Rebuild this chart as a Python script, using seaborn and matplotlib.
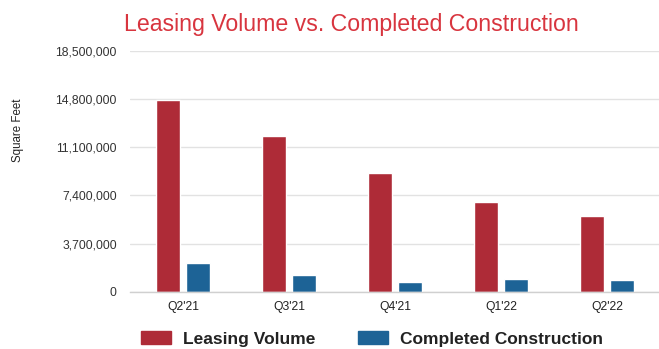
import matplotlib
matplotlib.use("Agg")
import matplotlib.pyplot as plt
import seaborn as sns
import pandas as pd
from matplotlib.patches import Patch
from matplotlib.ticker import FixedLocator, FuncFormatter

quarters = ["Q2'21", "Q3'21", "Q4'21", "Q1'22", "Q2'22"]
leasing_volume = [14750000, 11950000, 9090000, 6890000, 5810000]
completed_construction = [2200000, 1280000, 720000, 950000, 870000]
series_names = ["Leasing Volume", "Completed Construction"]
y_ticks = [0, 3700000, 7400000, 11100000, 14800000, 18500000]

colors = ["#ae2b37", "#1d6396"]

df = pd.DataFrame({
    "Quarter": quarters * 2,
    "Series": [series_names[0]] * len(quarters) + [series_names[1]] * len(quarters),
    "Value": leasing_volume + completed_construction,
})

sns.set_theme(style="white")
plt.rcParams['font.family'] = ['Liberation Sans', 'DejaVu Sans']

fig = plt.figure(figsize=(6.59, 3.49), dpi=100)
ax = fig.add_axes([130/659, 1-291.7/349, 530/659, (291.7-50.7)/349])

sns.barplot(data=df, x="Quarter", y="Value", hue="Series", order=quarters,
            hue_order=series_names, palette=colors, width=0.566, gap=0.2,
            ax=ax, legend=False, saturation=1, errorbar=None)

ax.set_ylim(0, 18500000)
ax.set_xlim(-0.5, len(quarters) - 0.5)
ax.yaxis.set_major_locator(FixedLocator(y_ticks))
ax.yaxis.set_major_formatter(FuncFormatter(lambda v, p: f"{int(v):,}"))
ax.grid(axis="y", color="#e2e2e2", linewidth=1)
ax.set_axisbelow(True)
for s in ["top", "right", "left"]:
    ax.spines[s].set_visible(False)
ax.spines["bottom"].set_color("#d0d0d0")
ax.spines["bottom"].set_linewidth(1)

ax.tick_params(axis="y", length=0, labelsize=8.7, labelcolor="#333333", pad=9.5)
ax.tick_params(axis="x", which="major", length=0, labelsize=8.7, labelcolor="#222222", pad=7)
ax.set_xticks([i - 0.5 for i in range(len(quarters) + 1)], minor=True)
ax.tick_params(axis="x", which="minor", length=4, color="#d0d0d0", width=1)

ax.set_xlabel("")
ax.set_ylabel("")
fig.text(17.5/659, 1-130/349, "Square Feet", rotation=90, ha="center", va="center",
         fontsize=8.3, color="#222222")

fig.text(351/659, 1-25/349, "Leasing Volume vs. Completed Construction",
         ha="center", va="center", fontsize=16.7, color="#d8353f")

handles = [Patch(facecolor=c, edgecolor=c) for c in colors]
leg = fig.legend(handles, series_names, loc="center", bbox_to_anchor=(372/659, 1-339/349),
                 ncol=2, frameon=False, handlelength=1.72, handleheight=0.75,
                 handletextpad=0.69, columnspacing=2.47,
                 prop={"weight": "bold", "size": 12.5})
for t in leg.get_texts():
    t.set_color("#222222")

fig.savefig("out.png", dpi=100)
